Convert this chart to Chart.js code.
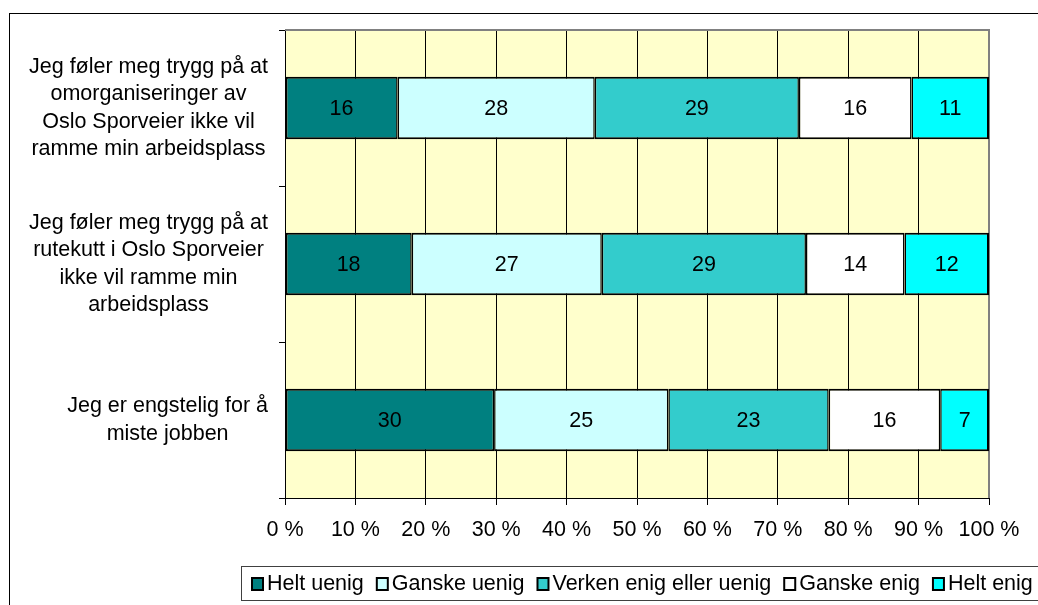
<!DOCTYPE html>
<html>
<head>
<meta charset="utf-8">
<script src="https://cdn.jsdelivr.net/npm/chart.js@4/dist/chart.umd.min.js"></script>
<style>
  html, body { margin: 0; padding: 0; background: #fff; overflow: hidden; }
  #wrap { position: relative; width: 1038px; height: 605px; }
</style>
</head>
<body>
<div id="wrap"><canvas id="chart"></canvas></div>
<script>
// Survey statements (one row each) and answer shares per category
const statements = [
    ['Jeg føler meg trygg på at', 'omorganiseringer av', 'Oslo Sporveier ikke vil', 'ramme min arbeidsplass'],
    ['Jeg føler meg trygg på at', 'rutekutt i Oslo Sporveier', 'ikke vil ramme min', 'arbeidsplass'],
    ['Jeg er engstelig for å', 'miste jobben']
];
const answerNames = ['Helt uenig', 'Ganske uenig', 'Verken enig eller uenig', 'Ganske enig', 'Helt enig'];
const heltUenig = [16, 18, 30];
const ganskeUenig = [28, 27, 25];
const verken = [29, 29, 23];
const ganskeEnig = [16, 14, 16];
const heltEnig = [11, 12, 7];
const xTicks = [0, 10, 20, 30, 40, 50, 60, 70, 80, 90, 100];

const colors = ['#008080', '#CCFFFF', '#33CCCC', '#FFFFFF', '#00FFFF'];
const FONT = '"Liberation Sans", Arial, sans-serif';
const FS = 21.5;

const series = [heltUenig, ganskeUenig, verken, ganskeEnig, heltEnig];
// 100 % stacked: each row is scaled by its own total
const totals = statements.map((_, i) => series.reduce((s, arr) => s + arr[i], 0));

const datasets = series.map((arr, k) => ({
    label: answerNames[k],
    data: arr.map((v, i) => v / totals[i] * 100),
    raw: arr,
    backgroundColor: colors[k],
    borderColor: '#000',
    // inner joins share one line, outer edges stay 2px
    borderWidth: { top: 2, bottom: 2, left: k === 0 ? 2 : 1.5, right: k === series.length - 1 ? 2 : 1.5 },
    borderSkipped: false,
    barPercentage: 0.4,
    categoryPercentage: 1
}));

const frame = {
    id: 'frame',
    beforeDraw(chart) {
        const ctx = chart.ctx;
        const a = chart.chartArea;
        ctx.save();
        ctx.fillStyle = '#fff';
        ctx.fillRect(0, 0, chart.width, chart.height);
        ctx.strokeStyle = '#000';
        ctx.lineWidth = 1;
        ctx.strokeRect(9.5, 13.5, 1200, 800);
        ctx.fillStyle = '#FFFFCC';
        ctx.fillRect(a.left, a.top, a.right - a.left, a.bottom - a.top);
        ctx.restore();
    },
    beforeDatasetsDraw(chart) {
        const ctx = chart.ctx;
        const a = chart.chartArea;
        ctx.save();
        ctx.strokeStyle = '#808080';
        ctx.lineWidth = 2;
        ctx.beginPath();
        ctx.moveTo(a.left, a.top);
        ctx.lineTo(a.right, a.top);
        ctx.lineTo(a.right, a.bottom);
        ctx.stroke();
        ctx.restore();
    },
    afterDatasetsDraw(chart) {
        const ctx = chart.ctx;
        ctx.save();
        ctx.font = FS + 'px ' + FONT;
        ctx.fillStyle = '#000';
        ctx.textAlign = 'center';
        ctx.textBaseline = 'middle';
        chart.data.datasets.forEach((ds, k) => {
            chart.getDatasetMeta(k).data.forEach((bar, i) => {
                const p = bar.getProps(['x', 'y', 'base'], true);
                ctx.fillText(String(ds.raw[i]), (p.x + p.base) / 2, p.y + 1);
            });
        });

        // category labels: centred lines, block right-aligned to the axis
        const y = chart.scales.y;
        const lh = 27.3;
        statements.forEach((lines, i) => {
            const widest = Math.max(...lines.map(l => ctx.measureText(l).width));
            const cx = 268 - widest / 2;
            const cy = y.getPixelForValue(i);
            lines.forEach((l, j) => {
                ctx.fillText(l, cx, cy + (j - (lines.length - 1) / 2) * lh);
            });
        });
        ctx.restore();
    },
    afterDraw(chart) {
        // legend
        const ctx = chart.ctx;
        ctx.save();
        ctx.strokeStyle = '#404040';
        ctx.lineWidth = 1;
        ctx.strokeRect(241.5, 566.5, 900, 34);
        ctx.font = FS + 'px ' + FONT;
        ctx.textBaseline = 'middle';
        ctx.textAlign = 'left';
        let x = 252;
        answerNames.forEach((name, k) => {
            ctx.fillStyle = colors[k];
            ctx.fillRect(x, 578, 11, 12);
            ctx.strokeStyle = '#000';
            ctx.lineWidth = 2;
            ctx.strokeRect(x, 578, 11, 12);
            ctx.fillStyle = '#000';
            ctx.fillText(name, x + 15, 584);
            x += 15 + ctx.measureText(name).width + 13;
        });
        ctx.restore();
    }
};

new Chart(document.getElementById('chart'), {
    type: 'bar',
    data: { labels: statements.map(s => s.join(' ')), datasets: datasets },
    options: {
        indexAxis: 'y',
        responsive: true,
        maintainAspectRatio: false,
        animation: false,
        layout: { padding: { top: 30, right: 49, bottom: 62, left: 0 } },
        plugins: { legend: { display: false }, tooltip: { enabled: false } },
        scales: {
            x: {
                stacked: true,
                min: 0,
                max: 100,
                afterBuildTicks: scale => { scale.ticks = xTicks.map(v => ({ value: v })); },
                afterFit: scale => { scale.height = 45; },
                ticks: {
                    color: '#000',
                    padding: 12,
                    maxRotation: 0,
                    font: { family: FONT, size: FS },
                    callback: v => v + ' %'
                },
                grid: {
                    color: '#000',
                    lineWidth: 1,
                    tickLength: 7,
                    drawTicks: true
                },
                border: { color: '#000', width: 1 }
            },
            y: {
                stacked: true,
                afterFit: scale => { scale.width = 285; },
                ticks: { display: false },
                grid: {
                    drawOnChartArea: false,
                    drawTicks: true,
                    tickLength: 6,
                    color: '#000',
                    offset: true
                },
                border: { color: '#000', width: 1 }
            }
        }
    },
    plugins: [frame]
});
</script>
</body>
</html>
